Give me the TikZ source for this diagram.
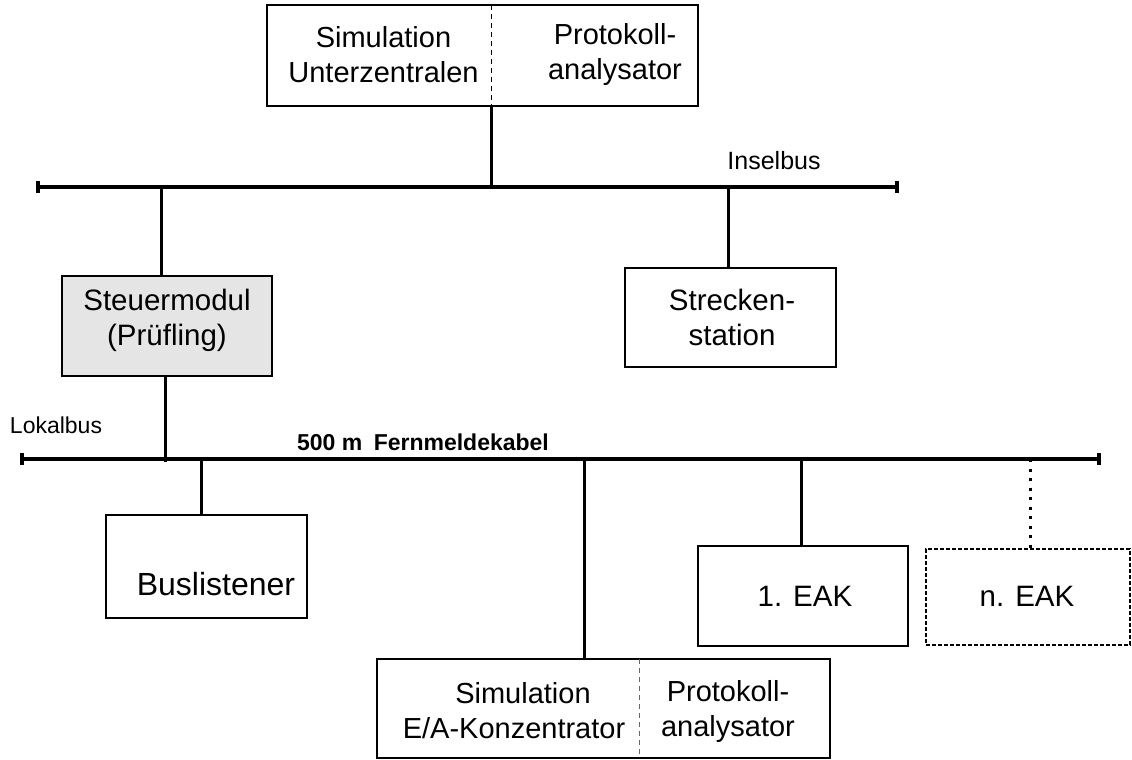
\documentclass[tikz,border=0pt]{standalone}
\usepackage{fontspec}
\setmainfont{Liberation Sans}
\usetikzlibrary{calc}
\begin{document}
\begin{tikzpicture}[x=1pt,y=-1pt,
  box/.style={draw,line width=2pt,inner sep=0pt,outer sep=0pt},
  txt/.style={align=center,inner sep=0pt,font=\fontsize{29.5}{35}\selectfont},
  bus/.style={line width=3.5pt},
  tap/.style={line width=3pt},
  endtick/.style={line width=3.5pt},
  divider/.style={line width=1pt,dash pattern=on 5pt off 4pt},
  buslabel/.style={inner sep=0pt,font=\fontsize{23}{27}\selectfont}
]
\useasboundingbox (0,0) rectangle (1132,760);

% bus end points
\coordinate (insL) at (38,187);
\coordinate (insR) at (897,187);
\coordinate (lokL) at (22,459);
\coordinate (lokR) at (1099,459);

% tap positions on the buses
\coordinate (tTop) at (491,187);
\coordinate (tSteuerA) at (161,187);
\coordinate (tStrecke) at (728,187);
\coordinate (tSteuerB) at (165,462);
\coordinate (tBus) at (201,459);
\coordinate (tSim) at (584,459);
\coordinate (tEak) at (801,459);
\coordinate (tEakN) at (1030,459);

% boxes
\node[box,minimum width=431,minimum height=101] (top) at (482.5,55.5) {};
\node[box,fill=black!10,minimum width=210,minimum height=100] (steuer) at (167,326) {};
\node[box,minimum width=211,minimum height=99] (strecke) at (730.5,317.5) {};
\node[box,minimum width=201,minimum height=103] (listener) at (206.5,566.5) {};
\node[box,minimum width=453,minimum height=99] (sim) at (603.5,708.5) {};
\node[box,minimum width=210,minimum height=100] (eak) at (803,596) {};
\node[box,dash pattern=on 4pt off 2pt,minimum width=204,minimum height=96] (eakn) at (1028,597) {};

% texts
\node[txt,font=\fontsize{29}{35}\selectfont] (topL) at (383.5,55) {Simulation\\Unterzentralen};
\node[txt,font=\fontsize{29}{35}\selectfont] (topR) at (615,55) {Protokoll-\\analysator};
\node[txt] (steuerT) at (167,320) {Steuermodul\\(Prüfling)};
\node[txt] (streckeT) at (732,317) {Strecken-\\station};
\node[txt,font=\fontsize{32}{38}\selectfont] (listenerT) at (216,584) {Buslistener};
\node[txt,font=\fontsize{29}{35}\selectfont] (simL) at (514,711) {\hspace*{18pt}Simulation\\E/A-Konzentrator};
\node[txt,font=\fontsize{29}{35}\selectfont] (simR) at (728,711) {Protokoll-\\analysator};
\node[txt] (eakT) at (805,596) {1. EAK};
\node[txt] (eaknT) at (1027,596) {n. EAK};

% bus labels
\node[buslabel,font=\fontsize{25}{30}\selectfont] (insLabel) at (774,161) {Inselbus};
\node[buslabel] (lokLabel) at (56,425) {Lokalbus};
\node[buslabel,font=\fontsize{23}{27}\bfseries] (cable) at (423,442) {500 m\hspace{0.5em}Fernmeldekabel};

% split lines inside the two double boxes
\coordinate (divTop) at (491,0);
\coordinate (divSim) at (639,0);
\draw[divider] (top.north -| divTop) -- (top.south -| divTop);
\draw[divider,black!60] (sim.north -| divSim) -- (sim.south -| divSim);

% buses with end ticks
\draw[bus] (insL) -- (insR);
\draw[bus] (lokL) -- (lokR);
\foreach \e in {insL,insR,lokL,lokR}
  \draw[endtick] ($(\e)+(0,-6)$) -- ($(\e)+(0,6)$);

% taps
\draw[tap] (top.south -| tTop) -- (tTop);
\draw[tap] (tSteuerA) -- (tSteuerA |- steuer.north);
\draw[tap] (steuer.south -| tSteuerB) -- (tSteuerB);
\draw[tap] (tStrecke) -- (tStrecke |- strecke.north);
\draw[tap] (tBus) -- (tBus |- listener.north);
\draw[tap] (tSim) -- (tSim |- sim.north);
\draw[tap] (tEak) -- (tEak |- eak.north);
\draw[tap,dash pattern=on 3pt off 6.5pt] (tEakN) -- (tEakN |- eakn.north);
\end{tikzpicture}
\end{document}
